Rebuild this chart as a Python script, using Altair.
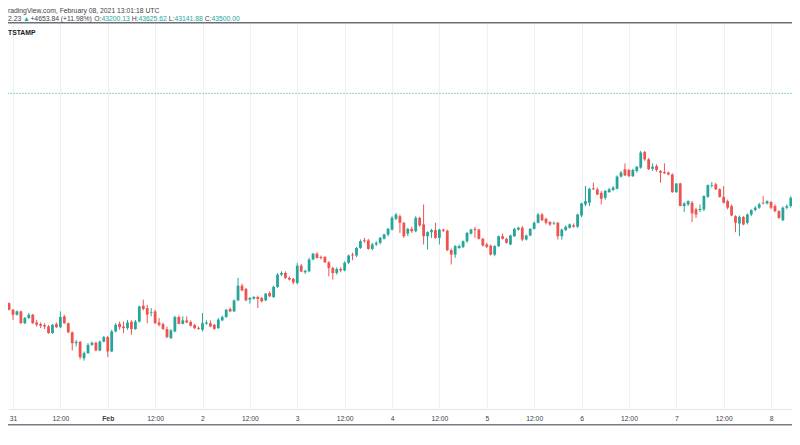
import altair as alt
import pandas as pd

# ---- hourly candles, BTCUSD (Bitstamp), starting 2021-01-30 21:00 UTC ----
first_bar = "2021-01-30T21:00:00Z"
opens = [34180,34700,34600,34320,34110,34250,33750,33970,34110,33780,33720,33670,33610,33330,33720,33580,34040,33750,33360,32900,
         32960,32260,32480,32830,32920,32590,32970,33160,32550,33400,33720,33610,33540,33810,33500,33820,34490,34390,34180,34250,
         33780,33710,33500,33110,33400,34010,33720,33870,33800,33670,33550,33470,33730,33750,33680,33540,33870,34010,34350,34250,
         34720,35340,35200,34750,34790,34860,34820,34720,35030,34860,35290,35810,35880,35670,35630,35460,36190,35910,35950,36450,
         36700,36560,36560,36330,36090,35880,36050,35990,36310,36660,36620,36940,37270,37260,36900,37090,37160,37330,37510,37720,
         38180,38290,38010,37550,37750,37650,38220,37940,37440,37610,37700,37370,37720,37670,36850,36660,36940,36980,37230,37550,
         37750,37720,37330,37090,37040,36660,37020,37440,37330,37090,37440,37720,37800,37300,37470,37750,38010,38360,38180,38040,
         37980,38010,37440,37700,37800,37900,37840,38320,38790,38860,39470,39430,39280,39070,39310,39400,39450,39970,40280,40250,
         39990,40210,40350,41010,40700,40300,40420,40210,40160,40140,40060,39310,39680,38720,38790,38860,38580,38550,38580,39110,
         39570,39640,39430,39110,38930,38720,38290,37980,38260,38010,38360,38550,38650,38860,38830,38890,38720,38500,38120,38650,
         38720,39070]
highs = [34770,34820,34630,34350,34290,34280,34010,34180,34140,33890,33780,33750,33670,33720,33780,34250,34110,33780,33400,33040,
         33000,32550,32900,32970,32960,33020,33210,33210,33470,33750,33820,33820,33890,33870,33890,34490,34750,34530,34390,34320,
         33970,33780,33610,33500,34070,34070,34040,34040,33870,33720,33610,34180,33870,33870,33720,33970,34070,34350,34420,34750,
         35670,35430,35250,34860,34900,34920,34860,35030,35100,35340,35880,35950,35950,35740,35670,36310,36260,36020,36520,36730,
         36760,36620,36600,36380,36150,36120,36120,36380,36660,36740,36980,37300,37370,37330,37160,37230,37410,37550,37800,38290,
         38430,38360,38040,37800,37840,38290,38260,38790,37650,37750,38010,37760,37760,37720,36920,37060,37090,37260,37620,37760,
         37840,37760,37370,37160,37090,37060,37470,37550,37370,37510,37800,37840,37870,37510,37780,38060,38430,38430,38220,38080,
         38060,38040,37760,37900,37980,37980,38390,38860,39570,39500,39710,39500,39360,39400,39500,39570,40020,40210,40530,40300,
         40300,40420,41060,41060,40760,40530,40490,40250,40530,40180,40110,39680,39710,38890,38960,38930,38650,38790,39180,39640,
         39740,39710,39470,39570,38990,38790,38330,38320,38290,38410,38580,38720,38860,39140,38960,38930,38790,38550,38700,38790,
         39140,39500]
lows = [34040,34580,34290,33890,34070,33720,33710,33920,33720,33610,33540,33500,33300,33300,33540,33540,33720,33330,32590,32760,
        32220,32160,32450,32790,32560,32560,32930,32310,32520,33360,33470,33330,33470,33260,33470,33780,34290,33750,34040,33720,
        33610,33470,33110,33090,33370,33700,33700,33750,33610,33500,33470,33400,33680,33580,33470,33510,33840,33980,34210,34220,
        34680,35100,34680,34580,34750,34390,34640,34680,34860,34820,35250,35740,35630,35560,35410,35400,35910,35840,35910,36420,
        36490,36450,36310,35740,35600,35810,35910,35950,36260,36420,36560,36900,37160,36870,36840,37020,37090,37300,37440,37680,
        38120,37580,37370,37440,37580,37610,37840,37090,36870,37370,37330,37090,37610,36800,36240,36520,36900,36940,37160,37510,
        37370,37300,37010,36940,36620,36590,36980,37300,37130,37060,37410,37680,37230,37260,37440,37720,37980,38080,37940,37870,
        37920,37300,37300,37660,37760,37800,37800,38250,38720,38720,39400,39180,38790,38990,39280,39360,39430,39930,39990,39950,
        39950,40140,40300,40640,40250,40210,40180,39710,40080,40020,39280,39280,38720,38460,38720,38040,38220,38460,38500,39070,
        39500,39400,39070,38830,38580,38290,37610,37440,37900,37940,38290,38500,38600,38790,38790,38580,38460,38170,38080,38580,
        38650,39030]
closes = [34700,34600,34320,34110,34250,33750,33970,34110,33750,33680,33640,33610,33330,33680,33580,34010,33750,33360,32900,32960,
          32310,32480,32830,32920,32590,32970,33160,32550,33400,33680,33580,33540,33780,33500,33820,34460,34350,34110,34210,33750,
          33680,33500,33160,33440,34010,33720,33870,33780,33640,33540,33510,33750,33780,33610,33510,33900,34010,34320,34250,34720,
          35340,35140,34720,34820,34860,34780,34680,35000,34890,35290,35810,35880,35670,35600,35480,36190,35940,35970,36450,36700,
          36520,36520,36330,36090,35880,36050,35990,36310,36620,36620,36940,37230,37230,36900,37090,37160,37370,37510,37750,38220,
          38360,38010,37440,37750,37650,38220,37900,37440,37610,37700,37370,37720,37670,36850,36660,37020,37020,37230,37580,37720,
          37700,37330,37040,36990,36660,37020,37440,37330,37160,37470,37750,37800,37300,37470,37750,38010,38360,38120,38010,37940,
          38010,37440,37720,37840,37940,37840,38360,38830,38930,39450,39430,39210,39030,39360,39430,39500,39970,40140,40020,39990,
          40250,40390,40990,40700,40280,40390,40250,40140,40110,40060,39310,39680,38720,38830,38930,38410,38360,38600,39140,39600,
          39600,39430,39110,38860,38650,38320,38010,38260,37940,38360,38550,38650,38790,38830,38930,38650,38500,38220,38650,38720,
          39070,39430]

last_price = [43500.00]
price_grid = list(range(31000, 47000, 1000))
tick_times = pd.date_range("2021-01-31T00:00:00Z", "2021-02-08T00:00:00Z", freq="12h")

header_line1 = "radingView.com, February 08, 2021 13:01:18 UTC"
header_line2 = [("2.23", "dark"), ("\u25b2", "teal"), ("+4653.84 (+11.98%)", "dark"),
                ("O:", "dark"), ("43200.13", "teal"), ("H:", "dark"), ("43625.62", "teal"),
                ("L:", "dark"), ("43141.88", "teal"), ("C:", "dark"), ("43500.00", "teal")]
symbol_text = "TSTAMP"

# ---- build table ----
times = pd.date_range(first_bar, periods=len(opens), freq="h")
df = pd.DataFrame({
    "time": [int(t.value // 10**6) for t in times],
    "open": opens, "high": highs, "low": lows, "close": closes,
})
df["dir"] = ["up" if c >= o else "down" for o, c in zip(opens, closes)]

UP, DOWN = "#26a69a", "#ef5350"
FONT = "Liberation Sans"
FS = 6.8
W, H = 784, 386

t0 = int(pd.Timestamp("2021-01-30T22:44:00Z").value // 10**6)
t1 = int(pd.Timestamp("2021-02-08T05:18:37Z").value // 10**6)
tick_ms = [int(t.value // 10**6) for t in tick_times]

xscale = alt.Scale(type="utc", domain=[t0, t1], padding=0)
yscale = alt.Scale(domain=[30109, 46486], nice=False, zero=False, padding=0)

xaxis = alt.Axis(
    values=tick_ms, title=None, grid=True, gridColor="#eff1f4", gridWidth=1,
    ticks=False, domain=True, domainColor="#e3e5ea", domainWidth=1,
    labelExpr="utchours(datum.value) == 12 ? '12:00' : (utcdate(datum.value) == 1 ? 'Feb' : '' + utcdate(datum.value))",
    labelFont=FONT, labelFontSize=FS, labelColor="#3c3f48", labelPadding=9.5,
    labelBaseline="middle", labelOverlap=False, labelFlush=False, labelBound=False,
    labelFontWeight={"condition": {"test": "utcdate(datum.value) == 1 && utchours(datum.value) == 0", "value": "bold"},
                     "value": "normal"},
)
yaxis = alt.Axis(values=price_grid, title=None, labels=False, ticks=False, domain=False,
                 grid=True, gridColor="#eff1f4", gridWidth=1)

color = alt.Color("dir:N", scale=alt.Scale(domain=["up", "down"], range=[UP, DOWN]), legend=None)

base = alt.Chart(df)
wicks = base.mark_rule(strokeWidth=1, clip=True).encode(
    x=alt.X("time:T", scale=xscale, axis=xaxis),
    y=alt.Y("low:Q", scale=yscale, axis=yaxis),
    y2="high:Q",
    color=color,
)
bodies = base.mark_bar(size=2.8, clip=True).encode(
    x=alt.X("time:T", scale=xscale, axis=xaxis),
    y=alt.Y("open:Q", scale=yscale, axis=yaxis),
    y2="close:Q",
    color=color,
)

price_line = alt.Chart(pd.DataFrame({"price": last_price})).mark_rule(
    color="#8fd3cb", strokeDash=[2, 1], strokeWidth=1
).encode(y=alt.Y("price:Q", scale=yscale, axis=None))

one = pd.DataFrame({"k": [0]})
sep_top = alt.Chart(one).mark_rule(color="#6b6e78", strokeWidth=1.4).encode(
    x=alt.value(0), x2=alt.value(W), y=alt.value(-0.3))
sep_bottom = alt.Chart(one).mark_rule(color="#787b86", strokeWidth=1.4).encode(
    x=alt.value(0), x2=alt.value(W), y=alt.value(401.7))


def label(text, x, y, color, weight="normal", size=FS):
    return alt.Chart(pd.DataFrame({"t": [text]})).mark_text(
        align="left", baseline="alphabetic", font=FONT, fontSize=size,
        color=color, fontWeight=weight
    ).encode(x=alt.value(x), y=alt.value(y), text="t:N")


DARK, TEAL = "#3c3f48", UP
texts = [label(header_line1, 0, -10.5, DARK)]
seg_x = [0, 15.1, 22.4, 86.3, 93.5, 123.7, 130.5, 160.8, 166.4, 196.7, 203.5]
for (s, c), xx in zip(header_line2, seg_x):
    texts.append(label(s, xx, -2.5, DARK if c == "dark" else TEAL))
texts.append(label(symbol_text, 0, 12, "#131722", "bold"))

chart = alt.layer(price_line, wicks, bodies, sep_top, sep_bottom, *texts).properties(
    width=W, height=H, autosize="none",
    padding={"left": 0, "right": 0, "top": 15, "bottom": 28},
    background="white",
).configure_view(stroke=None)

chart.save("out.html", embed_options={"renderer": "svg", "actions": False})
